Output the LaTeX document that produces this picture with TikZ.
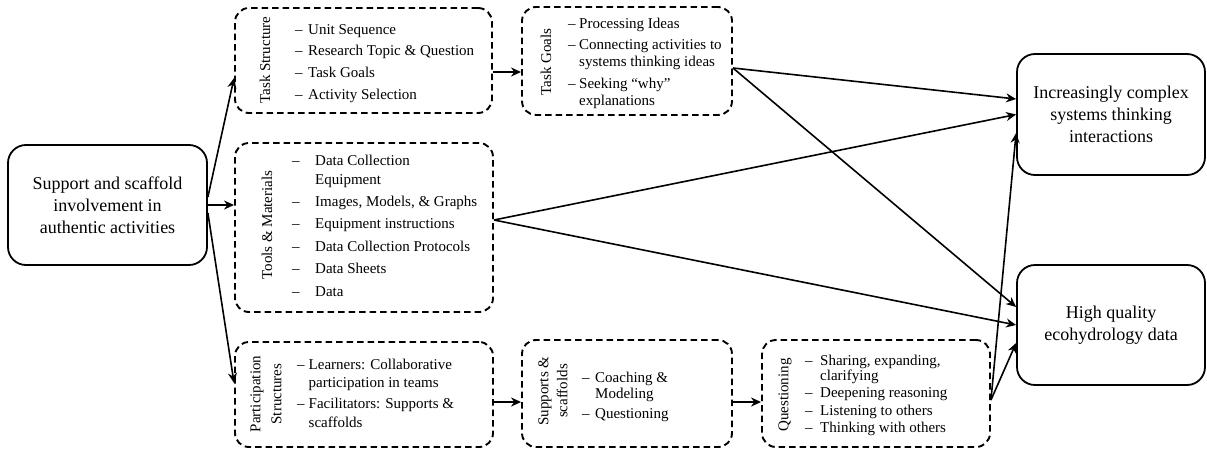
\documentclass[tikz,border=0pt]{standalone}
\usepackage{fontspec}
\setmainfont{Liberation Serif}
\usetikzlibrary{arrows.meta}
\begin{document}
\begin{tikzpicture}[x=1pt,y=-1pt,
  mainbox/.style={draw, line width=1.8pt, rounded corners=18pt, align=center,
    font=\fontsize{18}{22}\selectfont, inner sep=0pt},
  groupbox/.style={draw, line width=1.9pt, dash pattern=on 6.5pt off 4pt,
    rounded corners=14pt, inner sep=0pt},
  grouplabel/.style={rotate=90, align=center, inner sep=0pt,
    font=\fontsize{15}{#1}\selectfont},
  itemlist/.style={anchor=base west, inner sep=0pt,
    font=\fontsize{15}{#1}\selectfont},
  flow/.style={-{Stealth[length=10pt,width=9pt]}, line width=1.6pt},
]
\useasboundingbox (0,0) rectangle (1207,450);

% source and outcome boxes
\node[mainbox, minimum width=199pt, minimum height=120pt] (left) at (107.5,205)
  {Support and scaffold\\involvement in\\authentic activities};
\node[mainbox, minimum width=188pt, minimum height=121pt] (out1) at (1111,114.5)
  {Increasingly complex\\systems thinking\\interactions};
\node[mainbox, minimum width=188pt, minimum height=120pt] (out2) at (1111,325)
  {High quality\\ecohydrology data};

% dashed group boxes
\node[groupbox, minimum width=257pt, minimum height=105pt] (ts) at (363.5,60.5) {};
\node[groupbox, minimum width=210pt, minimum height=108pt] (tg) at (627,61) {};
\node[groupbox, minimum width=258pt, minimum height=169pt] (tm) at (364,227.5) {};
\node[groupbox, minimum width=258pt, minimum height=105pt] (ps) at (364,394.5) {};
\node[groupbox, minimum width=210pt, minimum height=107pt] (ss) at (627,393.5) {};
\node[groupbox, minimum width=228pt, minimum height=107pt] (qu) at (876,393.5) {};

% rotated group titles
\node[grouplabel=21] (tslabel) at (265,60) {Task Structure};
\node[grouplabel=21] (tglabel) at (546,62) {Task Goals};
\node[grouplabel=21] (tmlabel) at (267,225) {Tools \& Materials};
\node[grouplabel=21] (pslabel) at (266,394) {Participation\\Structures};
\node[grouplabel=19] (sslabel) at (553,391) {Supports \&\\scaffolds};
\node[grouplabel=21] (qulabel) at (785,395) {Questioning};

% item lists
\node[itemlist=21.7] (tsitems) at (295,34) {%
  \begin{tabular}[t]{@{}l@{\hspace{5.5pt}}l@{}}
  \textendash & Unit Sequence\\
  \textendash & Research Topic \& Question\\
  \textendash & Task Goals\\
  \textendash & Activity Selection
  \end{tabular}};
\node[itemlist=17] (tgitems) at (568,28) {%
  \begin{tabular}[t]{@{}l@{\hspace{3.5pt}}l@{}}
  \textendash & Processing Ideas\\[4.5pt]
  \textendash & Connecting activities to\\
              & systems thinking ideas\\[4.5pt]
  \textendash & Seeking “why”\\
              & explanations
  \end{tabular}};
\node[itemlist=19] (tmitems) at (292,165) {%
  \begin{tabular}[t]{@{}l@{\hspace{15.5pt}}l@{}}
  \textendash & Data Collection\\
              & Equipment\\[3.4pt]
  \textendash & Images, Models, \& Graphs\\[3.4pt]
  \textendash & Equipment instructions\\[3.4pt]
  \textendash & Data Collection Protocols\\[3.4pt]
  \textendash & Data Sheets\\[3.4pt]
  \textendash & Data
  \end{tabular}};
\node[itemlist=18.5] (psitems) at (297,369) {%
  \begin{tabular}[t]{@{}l@{\hspace{4pt}}l@{}}
  \textendash & Learners: Collaborative\\
              & participation in teams\\[2.5pt]
  \textendash & Facilitators: Supports \&\\
              & scaffolds
  \end{tabular}};
\node[itemlist=16] (ssitems) at (582,382) {%
  \begin{tabular}[t]{@{}l@{\hspace{5.5pt}}l@{}}
  \textendash & Coaching \&\\
              & Modeling\\[4pt]
  \textendash & Questioning
  \end{tabular}};
\node[itemlist=15.5] (quitems) at (805,365) {%
  \begin{tabular}[t]{@{}l@{\hspace{7.5pt}}l@{}}
  \textendash & Sharing, expanding,\\
              & clarifying\\[1.8pt]
  \textendash & Deepening reasoning\\[1.8pt]
  \textendash & Listening to others\\[1.8pt]
  \textendash & Thinking with others
  \end{tabular}};

% connectors
\draw[flow] ([yshift=8pt]left.east) -- ([yshift=-17.5pt]ts.west);
\draw[flow] (left.east) -- ([yshift=22.5pt]tm.west);
\draw[flow] ([yshift=-8pt]left.east) -- ([yshift=11.5pt]ps.west);
\draw[flow] ([yshift=-11.5pt]ts.east) -- ([yshift=-11pt]tg.west);
\draw[flow] ([yshift=-7.5pt]ps.east) -- ([yshift=-8.5pt]ss.west);
\draw[flow] ([yshift=-8.5pt]ss.east) -- ([yshift=-8.5pt]qu.west);
\draw[flow] ([yshift=-7pt]tg.east) -- ([yshift=15.5pt]out1.west);
\draw[flow] ([yshift=-7pt]tg.east) -- ([yshift=18pt]out2.west);
\draw[flow] ([yshift=7.5pt]tm.east) -- (out1.west);
\draw[flow] ([yshift=7.5pt]tm.east) -- (out2.west);
\draw[flow] ([yshift=-6.5pt]qu.east) -- ([yshift=-18.5pt]out1.west);
\draw[flow] ([yshift=-6.5pt]qu.east) -- ([yshift=-18pt]out2.west);
\end{tikzpicture}
\end{document}
